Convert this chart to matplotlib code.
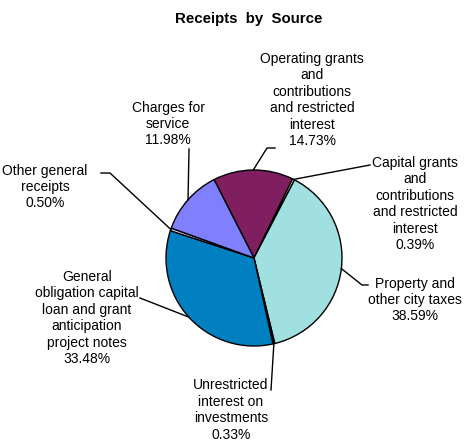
import matplotlib
matplotlib.use("Agg")
import matplotlib.pyplot as plt
import numpy as np

plt.rcParams['font.family'] = ['Liberation Sans', 'DejaVu Sans']

# slices in clockwise order, starting at the top
labels = ["Operating grants\nand\ncontributions\nand restricted\ninterest",
          "Capital grants\nand\ncontributions\nand restricted\ninterest",
          "Property and\nother city taxes",
          "Unrestricted\ninterest on\ninvestments",
          "General\nobligation capital\nloan and grant\nanticipation\nproject notes",
          "Other general\nreceipts",
          "Charges for\nservice"]
shares = [14.73, 0.39, 38.59, 0.33, 33.48, 0.50, 11.98]
colors = ["#7F1F5F", "#FFFFCC", "#A0E0E0", "#000060", "#0080C0", "#CCCCFF", "#8080FF"]

# label text centre and leader elbow points (pixels, y down)
label_xy = [(312, 100), (415, 204), (415, 300), (231, 410), (87, 318), (45, 187), (168, 124)]
elbows = [[(267, 148), (275, 148)],
          [(370, 165)],
          [(362, 285), (368, 285)],
          [(271, 390)],
          [(140, 298)],
          [(110, 173), (101, 173)],
          [(189, 149)]]

W, H = 466, 442
fig = plt.figure(figsize=(W / 100, H / 100), dpi=100)
ax = fig.add_axes([0, 0, 1, 1])

cx, cy, r = 254, H - 258, 88
wedges, _ = ax.pie(shares, colors=colors, startangle=117, counterclock=False,
                   center=(cx, cy), radius=r, frame=True,
                   wedgeprops=dict(edgecolor='black', linewidth=1.0))
ax.set_xlim(0, W)
ax.set_ylim(0, H)
ax.set_aspect('equal')
ax.axis('off')

for w, lab, val, (tx, ty), elb in zip(wedges, labels, shares, label_xy, elbows):
    mid = np.deg2rad((w.theta1 + w.theta2) / 2)
    px, py = cx + r * np.cos(mid), cy + r * np.sin(mid)
    xs = [px] + [e[0] for e in elb]
    ys = [py] + [H - e[1] for e in elb]
    ax.plot(xs, ys, color='black', lw=1.0)
    ax.text(tx, H - ty, f"{lab}\n{val:.2f}%", ha='center', va='center',
            fontsize=10, linespacing=1.22, color='black')

ax.text(249, H - 19, "Receipts  by  Source", ha='center', va='center',
        fontsize=10.8, fontweight='bold')

fig.savefig("out.png", dpi=100)
